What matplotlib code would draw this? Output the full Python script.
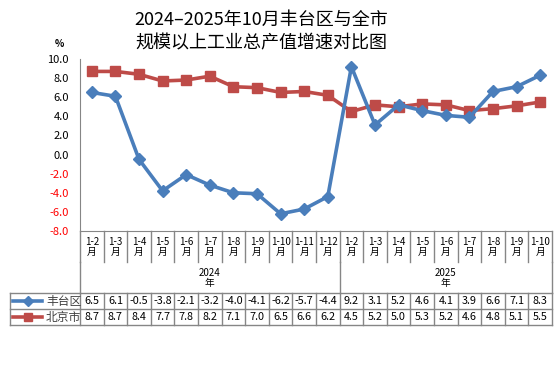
import matplotlib
matplotlib.use("Agg")
import matplotlib.pyplot as plt
import matplotlib.transforms as mtransforms
from matplotlib.lines import Line2D

plt.rcParams['font.family'] = ['Noto Sans CJK SC', 'DejaVu Sans']

months_2024 = ["1-2", "1-3", "1-4", "1-5", "1-6", "1-7", "1-8", "1-9", "1-10", "1-11", "1-12"]
months_2025 = ["1-2", "1-3", "1-4", "1-5", "1-6", "1-7", "1-8", "1-9", "1-10"]
fengtai = [6.5, 6.1, -0.5, -3.8, -2.1, -3.2, -4.0, -4.1, -6.2, -5.7, -4.4,
           9.2, 3.1, 5.2, 4.6, 4.1, 3.9, 6.6, 7.1, 8.3]
beijing = [8.7, 8.7, 8.4, 7.7, 7.8, 8.2, 7.1, 7.0, 6.5, 6.6, 6.2,
           4.5, 5.2, 5.0, 5.3, 5.2, 4.6, 4.8, 5.1, 5.5]
yticks = [10.0, 8.0, 6.0, 4.0, 2.0, 0.0, -2.0, -4.0, -6.0, -8.0]

W, H = 554, 378
blue = "#4A7EBB"
red = "#BE4B48"
grid_c = "#868686"

fig = plt.figure(figsize=(W / 100, H / 100), dpi=100)
ax = fig.add_axes([80 / W, 1 - 231 / H, 472 / W, 172 / H])

labels = months_2024 + months_2025
x = list(range(len(labels)))

ax.plot(x, beijing, color=red, lw=2.6, marker="s", ms=7, zorder=3)
ax.plot(x, fengtai, color=blue, lw=2.6, marker="D", ms=6, zorder=4)

ax.set_xlim(-0.5, len(labels) - 0.5)
ax.set_ylim(-8, 10)
ax.set_yticks(yticks)
ax.set_yticklabels([f"{v:.1f}" for v in yticks], fontsize=8)
for t, v in zip(ax.get_yticklabels(), yticks):
    t.set_color("red" if v < 0 else "black")
ax.tick_params(axis="y", length=0, pad=8)
ax.set_xticks([])
for s in ["top", "right"]:
    ax.spines[s].set_visible(False)
ax.spines["left"].set_color(grid_c)
ax.spines["bottom"].set_color(grid_c)

fig.text(55 / W, 1 - 44 / H, "%", fontsize=7, ha="left", va="center", weight="bold")
fig.text(261 / W, 1 - 20 / H, "2024\u20132025年10月丰台区与全市", fontsize=13,
         ha="center", va="center", weight="medium")
fig.text(261 / W, 1 - 43 / H, "规模以上工业总产值增速对比图", fontsize=13,
         ha="center", va="center", weight="medium")

# table below the axis
tr = mtransforms.blended_transform_factory(ax.transData, fig.transFigure)
tf = fig.transFigure
def fy(py):
    return 1 - py / H

def vline(xd, y0, y1):
    fig.add_artist(Line2D([xd, xd], [fy(y0), fy(y1)], transform=tr, color=grid_c, lw=1))

n = len(labels)
for i in range(n + 1):
    vline(i - 0.5, 231, 262)
    vline(i - 0.5, 293, 325)
for b in [-0.5, len(months_2024) - 0.5, n - 0.5]:
    vline(b, 262, 293)
for py in [293, 309, 325]:
    fig.add_artist(Line2D([10 / W, 552 / W], [fy(py), fy(py)], transform=tf, color=grid_c, lw=1))
fig.add_artist(Line2D([10 / W, 10 / W], [fy(293), fy(325)], transform=tf, color=grid_c, lw=1))

for i, lab in enumerate(labels):
    fig.text(i, fy(247), lab + "\n月", transform=tr, fontsize=7, ha="center", va="center",
             linespacing=1.1)
fig.text((len(months_2024) - 1) / 2, fy(278), "2024\n年", transform=tr, fontsize=7,
         ha="center", va="center", linespacing=1.1)
fig.text(len(months_2024) + (len(months_2025) - 1) / 2, fy(278), "2025\n年", transform=tr,
         fontsize=7, ha="center", va="center", linespacing=1.1)

for row_py, vals, name, col, mk, ms in [(301, fengtai, "丰台区", blue, "D", 5),
                                         (317, beijing, "北京市", red, "s", 6)]:
    for i, v in enumerate(vals):
        fig.text(i, fy(row_py), f"{v:.1f}", transform=tr, fontsize=7.8, ha="center", va="center")
    fig.add_artist(Line2D([13 / W, 42 / W], [fy(row_py), fy(row_py)], transform=tf,
                          color=col, lw=2.6))
    fig.add_artist(Line2D([27.5 / W], [fy(row_py)], transform=tf, color=col, marker=mk, ms=ms))
    fig.text(46 / W, fy(row_py), name, fontsize=8.5, ha="left", va="center", color="#404040")

fig.savefig("out.png", dpi=100)
